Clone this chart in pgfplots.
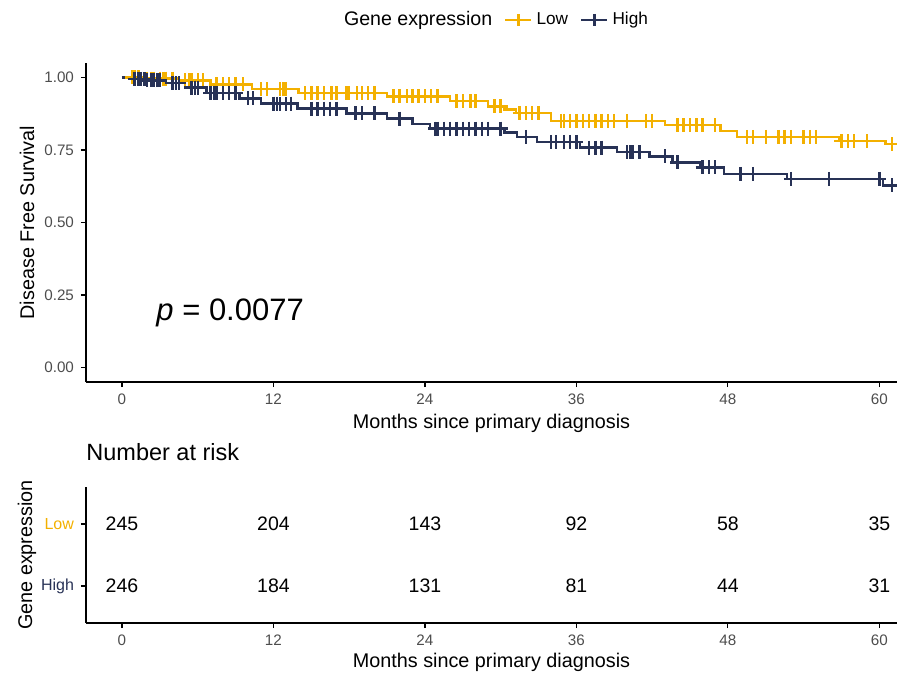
\documentclass[border=0pt]{standalone}
\usepackage{fontspec}
\setmainfont{Liberation Sans}
\usepackage{pgfplots}
\pgfplotsset{compat=1.18}
\definecolor{lowc}{RGB}{243,176,0}
\definecolor{highc}{RGB}{40,50,86}
\definecolor{tickgray}{RGB}{77,77,77}

\begin{document}
\begin{tikzpicture}
\path[use as bounding box] (0,0) rectangle (448.5pt,337.5pt);
\begin{axis}[
  at={(43pt,146.5pt)}, anchor=south west,
  scale only axis, width=405.5pt, height=159.5pt,
  xmin=-2.85, xmax=61.4, ymin=-0.05, ymax=1.05,
  axis x line*=bottom, axis y line*=left,
  axis line style={line width=0.6pt, black, -},
  xtick={0,12,...,60}, ytick={0,0.25,0.5,0.75,1},
  tick align=outside, tick style={black, line width=0.6pt}, major tick length=2.5pt,
  ticklabel style={font=\fontsize{7.6}{9}\selectfont, text=tickgray},
  /pgf/number format/assume math mode=true,
  yticklabel style={/pgf/number format/.cd, fixed, fixed zerofill, precision=2},
  xlabel={Months since primary diagnosis},
  ylabel={Disease Free Survival},
  label style={font=\fontsize{9.9}{12}\selectfont},
  xlabel style={at={(axis description cs:0.5,-0.1285)}, anchor=center},
  ylabel style={at={(axis description cs:-0.0727,0.5)}, anchor=center},
  legend style={at={(axis description cs:0.5055,1.135)}, anchor=center, draw=none, fill=none,
    legend columns=-1, font=\fontsize{8.6}{10}\selectfont,
    /tikz/every even column/.append style={column sep=4pt}},
  legend image code/.code={\draw[mark repeat=2,mark phase=2] plot coordinates {(0pt,0pt) (6.5pt,0pt) (13pt,0pt)};},
]
\addlegendimage{empty legend}
\addlegendentry{\fontsize{9.8}{11}\selectfont Gene expression}
\addlegendimage{lowc, line width=1.2pt, mark=+, mark size=3pt}
\addlegendentry{Low}
\addlegendimage{highc, line width=1.2pt, mark=+, mark size=3pt}
\addlegendentry{High}

% Low: Kaplan-Meier step curve
\addplot[const plot, lowc, line width=1.2pt, forget plot] coordinates {
(0,1) (1.5,0.996) (4.5,0.99) (7,0.976) (10.3,0.96) (14,0.946) (21,0.935) (26,0.918)
(29,0.9) (30.3,0.89) (31.2,0.878) (34,0.85) (43,0.836) (47.4,0.815) (48.7,0.795)
(56.8,0.78) (60.5,0.77) (62,0.77)};
\addplot[only marks, lowc, mark=+, mark size=3.5pt, line width=1.2pt, forget plot] coordinates {
(0.8,1) (1,1) (1.3,1) (2,0.996) (2.3,0.996) (2.5,0.996) (3,0.996) (3.3,0.996) (3.5,0.996) (4,0.996)
(5,0.99) (5.3,0.99) (5.5,0.99) (6,0.99) (6.4,0.99)
(7.5,0.976) (8,0.976) (8.5,0.976) (9,0.976) (9.6,0.976)
(11,0.96) (11.5,0.96) (12.5,0.96) (12.8,0.96) (13,0.96)
(14.5,0.946) (15,0.946) (15.5,0.946) (16,0.946) (16.6,0.946) (17,0.946)
(17.8,0.946) (18,0.946) (18.6,0.946) (19,0.946) (19.5,0.946) (20,0.946)
(21.5,0.935) (22,0.935) (22.6,0.935) (23,0.935) (23.5,0.935) (24,0.935) (24.5,0.935) (25,0.935)
(26.5,0.918) (27,0.918) (27.6,0.918) (28,0.918) (29.5,0.9) (30,0.9)
(31.5,0.878) (32,0.878) (32.5,0.878) (33,0.878)
(34.8,0.85) (35,0.85) (35.5,0.85) (36,0.85) (36.5,0.85) (37,0.85) (37.5,0.85) (38,0.85) (38.5,0.85)
(39,0.85) (40,0.85) (41.5,0.85) (42,0.85)
(44,0.836) (44.5,0.836) (45,0.836) (45.5,0.836) (46,0.836) (47,0.836)
(49.5,0.795) (50,0.795) (51,0.795) (52,0.795) (52.5,0.795)
(53,0.795) (54,0.795) (54.5,0.795) (55,0.795) (57,0.78) (57.5,0.78) (58,0.78)
(59,0.78) (61,0.77)};

% High: Kaplan-Meier step curve
\addplot[const plot, highc, line width=1.2pt, forget plot] coordinates {
(0,1) (1,0.995) (2,0.99) (3.5,0.98) (5,0.965) (6.7,0.946) (9.3,0.928) (11,0.91)
(13.9,0.893) (17.8,0.876) (21,0.858) (23,0.84) (24.4,0.824) (30.3,0.81) (31.3,0.795)
(32.9,0.778) (36.3,0.758) (39.2,0.743) (41.8,0.728) (43.6,0.707) (45.8,0.69)
(47.7,0.668) (52.7,0.65) (60.3,0.628) (62,0.628)};
\addplot[only marks, highc, mark=+, mark size=3.5pt, line width=1.2pt, forget plot] coordinates {
(1,0.995) (1.3,0.995) (1.5,0.995) (1.8,0.995) (2,0.99) (2.3,0.99) (2.5,0.99) (2.8,0.99) (3,0.99)
(4,0.98) (4.3,0.98) (4.5,0.98) (5.5,0.965) (5.8,0.965) (6,0.965)
(7,0.946) (7.3,0.946) (7.5,0.946) (8,0.946) (8.5,0.946) (9,0.946)
(10,0.928) (10.4,0.928) (12,0.91) (12.3,0.91) (12.5,0.91) (13,0.91) (13.4,0.91)
(15,0.893) (15.5,0.893) (16,0.893) (16.5,0.893) (17,0.893) (18.5,0.876) (19,0.876) (20,0.876)
(22,0.858) (24.8,0.824) (25,0.824) (25.5,0.824) (26,0.824) (26.5,0.824) (27,0.824) (27.5,0.824) (28,0.824) (28.5,0.824) (29,0.824)
(30,0.824) (32,0.795) (34,0.778) (34.4,0.778) (35,0.778) (35.5,0.778) (36,0.778) (37,0.758) (37.5,0.758) (38,0.758)
(40,0.743) (40.3,0.743) (40.5,0.743) (41,0.743) (43,0.728) (44,0.707) (46,0.69) (46.5,0.69) (47,0.69)
(49,0.668) (50,0.668) (53,0.65) (56,0.65) (60,0.65) (61,0.628)};

\node[anchor=west, font=\fontsize{15.5}{18}\selectfont, inner sep=0pt] at (axis cs:2.7,0.19) {\textit{p} = 0.0077};
\end{axis}

\begin{axis}[
  at={(43pt,26pt)}, anchor=south west,
  scale only axis, width=405.5pt, height=68pt,
  xmin=-2.85, xmax=61.4, ymin=0.4, ymax=2.6,
  axis x line*=bottom, axis y line*=left,
  axis line style={line width=0.6pt, black, -},
  xtick={0,12,...,60}, ytick={1,2},
  yticklabels={\textcolor{highc}{High}, \textcolor{lowc}{Low}},
  tick align=outside, tick style={black, line width=0.6pt}, major tick length=2.5pt,
  ticklabel style={font=\fontsize{7.6}{9}\selectfont, text=tickgray},
  yticklabel style={font=\fontsize{8}{9}\selectfont},
  /pgf/number format/assume math mode=true,
  xlabel={Months since primary diagnosis},
  ylabel={Gene expression},
  label style={font=\fontsize{9.9}{12}\selectfont},
  xlabel style={at={(axis description cs:0.5,-0.287)}, anchor=center},
  ylabel style={at={(axis description cs:-0.0727,0.5)}, anchor=center},
  title={Number at risk},
  title style={at={(axis description cs:0,1)}, anchor=base west, inner xsep=0pt, yshift=7.5pt, font=\fontsize{11.75}{14}\selectfont},
]
\addplot[only marks, mark=none, nodes near coords, point meta=explicit symbolic,
  nodes near coords style={anchor=center, font=\fontsize{9.75}{12}\selectfont, text=black}]
  table[meta=label] {
x y label
0 2 245
12 2 204
24 2 143
36 2 92
48 2 58
60 2 35
0 1 246
12 1 184
24 1 131
36 1 81
48 1 44
60 1 31
};
\end{axis}
\end{tikzpicture}
\end{document}
